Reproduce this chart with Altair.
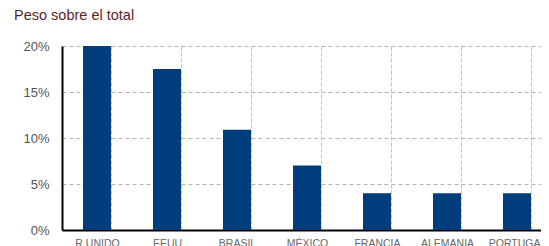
import altair as alt
import pandas as pd

categories = ["R.UNIDO", "EEUU", "BRASIL", "MÉXICO", "FRANCIA", "ALEMANIA", "PORTUGAL"]
values = [20.0, 17.5, 10.9, 7.0, 4.0, 4.0, 4.0]
y_ticks = [0, 5, 10, 15, 20]
title_text = "DE DESTINO EN 2015 (PAÍS INMEDIATO)"
subtitle_text = "Peso sobre el total"

df = pd.DataFrame({"pais": categories, "peso": values})

bars = alt.Chart(df).mark_bar(color="#003d7c").encode(
    x=alt.X(
        "pais:N",
        sort=categories,
        title=None,
        scale=alt.Scale(paddingInner=0.6, paddingOuter=0.3, range=[0, 490]),
        axis=alt.Axis(
            labelAngle=0,
            labelFont="Liberation Sans",
            labelFontSize=10.5,
            labelColor="#666666",
            labelPadding=8,
            ticks=False,
            domainColor="#000000",
            domainWidth=2,
            grid=True,
            tickBand="extent",
            gridColor="#c4c4c4",
            gridDash=[4, 2],
            gridWidth=1,
        ),
    ),
    y=alt.Y(
        "peso:Q",
        title=None,
        scale=alt.Scale(domain=[0, 20], nice=False),
        axis=alt.Axis(
            values=y_ticks,
            labelExpr="datum.value + '%'",
            labelFont="Liberation Sans",
            labelFontSize=13,
            labelColor="#555555",
            labelPadding=13,
            ticks=False,
            domainColor="#000000",
            domainWidth=2,
            grid=True,
            gridColor="#b4b4b4",
            gridDash=[4, 3],
            gridWidth=1,
        ),
    ),
)

texts = pd.DataFrame({"t": [title_text, subtitle_text],
                      "k": ["title", "sub"]})

title_mark = alt.Chart(texts[texts.k == "title"]).mark_text(
    align="left", baseline="alphabetic", font="Liberation Sans",
    fontSize=20, color="#5b1f2a"
).encode(text="t:N", x=alt.value(-50), y=alt.value(-46))

sub_mark = alt.Chart(texts[texts.k == "sub"]).mark_text(
    align="left", baseline="alphabetic", font="Liberation Sans",
    fontSize=14.5, color="#5b1f2a"
).encode(text="t:N", x=alt.value(-48), y=alt.value(-26.5))

chart = alt.layer(bars, title_mark, sub_mark).properties(
    width=479,
    height=184,
    autosize=alt.AutoSizeParams(type="none"),
    padding={"left": 54, "top": 38, "right": 0, "bottom": 22},
).configure_view(stroke=None)

chart.save("out.html", embed_options={"renderer": "svg", "actions": False})
